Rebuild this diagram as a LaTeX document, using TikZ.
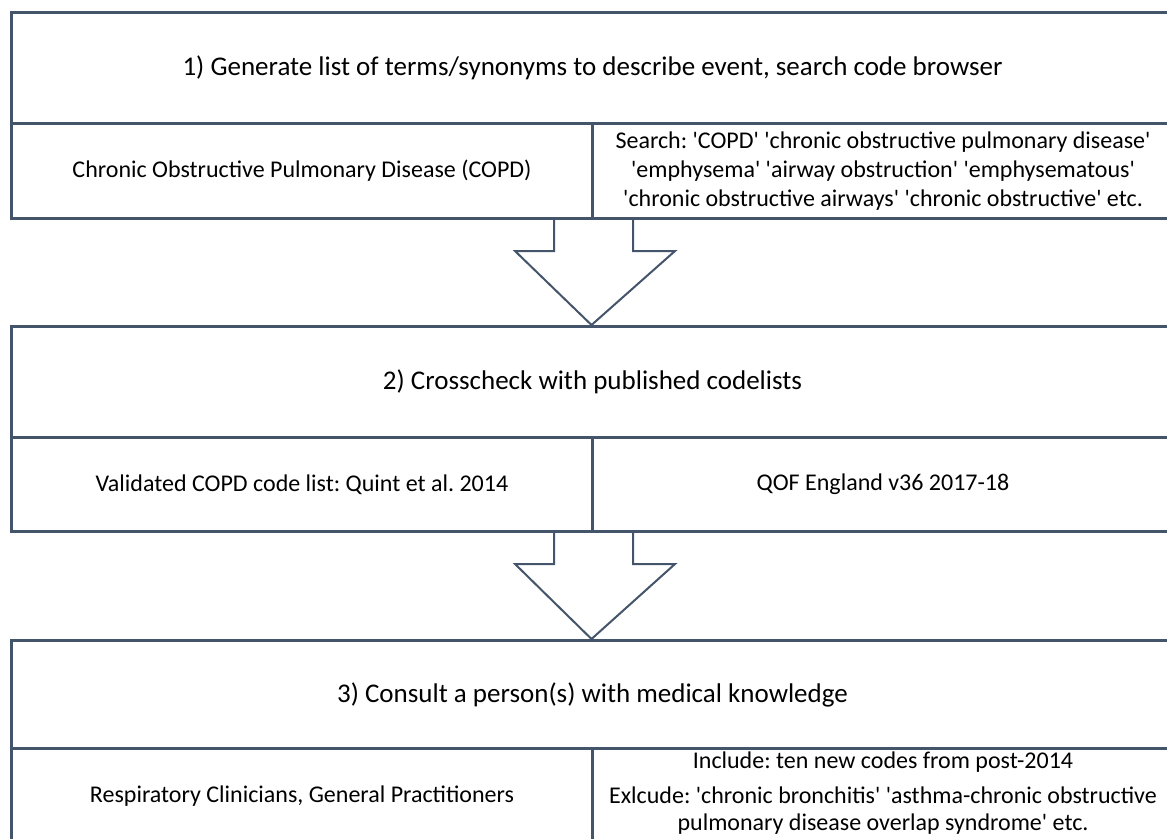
\documentclass[tikz,border=0pt]{standalone}
\usepackage{fontspec}
\setmainfont{Carlito}
\usetikzlibrary{calc}
\definecolor{frame}{HTML}{44546A}
% straight typewriter-style quote mark
\newcommand\sq{\textquotesingle}
\begin{document}
\frenchspacing
\begin{tikzpicture}[x=1pt,y=-1pt,
  cell/.style={draw=frame, line width=3pt, rectangle, inner sep=0pt,
    anchor=north west, align=center, text=black},
  head/.style={cell, minimum width=1162pt, font=\fontsize{27}{32}\selectfont},
  half/.style={cell, minimum width=581pt, font=\fontsize{24}{29}\selectfont},
  flow/.style={draw=frame, line width=2pt, fill=white, line join=miter}]
\useasboundingbox (0,0) rectangle (1167,838);
\clip (0,0) rectangle (1167,838);

% step 1
\node[head, minimum height=111pt] (h1) at (10,11)
  {1) Generate list of terms/synonyms to describe event, search code browser};
\node[half, minimum height=95pt] (l1) at (10,122)
  {Chronic Obstructive Pulmonary Disease (COPD)};
\node[half, minimum height=95pt] (r1) at (591,122)
  {Search: \sq COPD\sq\ \sq chronic obstructive pulmonary disease\sq\\
   \sq emphysema\sq\ \sq airway obstruction\sq\ \sq emphysematous\sq\\
   \sq chronic obstructive airways\sq\ \sq chronic obstructive\sq\ etc.};

% step 2
\node[head, minimum height=111pt] (h2) at (10,325)
  {2) Crosscheck with published codelists};
\node[half, minimum height=94pt] (l2) at (10,436)
  {Validated COPD code list: Quint et al. 2014};
\node[half, minimum height=94pt] (r2) at (591,436)
  {QOF England v36 2017-18};

% step 3 (its lower row runs past the page edge)
\node[head, minimum height=108pt] (h3) at (10,639)
  {3) Consult a person(s) with medical knowledge};
\node[half, minimum height=96pt] (l3) at (10,747)
  {Respiratory Clinicians, General Practitioners};
\node[half, minimum height=96pt] (r3) at (591,747) {};
\node[font=\fontsize{24}{27}\selectfont, align=center, inner sep=0pt]
  (r3text) at ($(r3.center)+(0,-3)$)
  {Include: ten new codes from post-2014\\[8pt]
   Exlcude: \sq chronic bronchitis\sq\ \sq asthma-chronic obstructive\\
   pulmonary disease overlap syndrome\sq\ etc.};

% block arrows between the steps
\foreach \from/\to in {l1/h2, l2/h3}{
  \path (\from.south east) coordinate (s) (\to.north) coordinate (t);
  \draw[flow] ($(s)+(-40,0)$) -- ($(s)+(-40,31)$) -- ($(s)+(-79,31)$)
    -- ($(t)+(-1,0)$) -- ($(s)+(81,31)$) -- ($(s)+(39,31)$)
    -- ($(s)+(39,0)$);
}
\end{tikzpicture}
\end{document}
